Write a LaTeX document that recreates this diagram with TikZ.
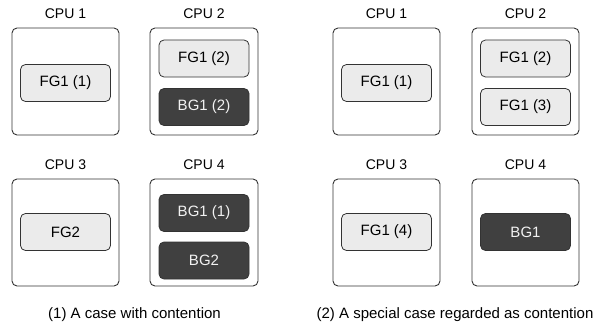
\documentclass[tikz,border=0pt]{standalone}
\usepackage{fontspec}
\setmainfont{Liberation Sans}
\begin{document}
\begin{tikzpicture}[x=1pt,y=-1pt,
  cpubox/.style={draw=black!80, line width=0.9pt, rounded corners=5pt, fill=white},
  fgtask/.style={draw=black!80, line width=0.8pt, rounded corners=5pt, fill=black!8,
    minimum width=90pt, minimum height=37pt, inner sep=0pt, font=\fontsize{15}{17}\selectfont},
  bgtask/.style={fgtask, fill=black!75, text=black!5},
  cpulabel/.style={anchor=base, inner sep=0pt, font=\fontsize{14}{16}\selectfont},
  caption/.style={anchor=base, inner sep=0pt, font=\fontsize{15}{17}\selectfont}]
\useasboundingbox (0,0) rectangle (594,329);

% ---- (1) a case with contention ----
\draw[cpubox] (12,28) rectangle (119,135);
\draw[cpubox] (150,28) rectangle (258,135);
\draw[cpubox] (12,179) rectangle (119,286);
\draw[cpubox] (150,179) rectangle (258,286);
\node[cpulabel] (l1) at (65.5,19) {CPU 1};
\node[cpulabel] (l2) at (204,19) {CPU 2};
\node[cpulabel] (l3) at (65.5,169) {CPU 3};
\node[cpulabel] (l4) at (204,169) {CPU 4};
\node[fgtask] (a1) at (65.5,83) {FG1 (1)};
\node[fgtask] (a2) at (204,58.5) {FG1 (2)};
\node[bgtask] (a3) at (204,107) {BG1 (2)};
\node[fgtask] (a4) at (65.5,232) {FG2};
\node[bgtask] (a5) at (204,213) {BG1 (1)};
\node[bgtask] (a6) at (204,260.5) {BG2};
\node[caption] (c1) at (134.5,318) {(1) A case with contention};

% ---- (2) a special case regarded as contention ----
\draw[cpubox] (333,28) rectangle (440,135);
\draw[cpubox] (472,28) rectangle (579,135);
\draw[cpubox] (333,179) rectangle (440,286);
\draw[cpubox] (472,179) rectangle (579,286);
\node[cpulabel] (r1) at (386.5,19) {CPU 1};
\node[cpulabel] (r2) at (525.5,19) {CPU 2};
\node[cpulabel] (r3) at (386.5,169) {CPU 3};
\node[cpulabel] (r4) at (525.5,169) {CPU 4};
\node[fgtask] (b1) at (386.5,83) {FG1 (1)};
\node[fgtask] (b2) at (525.5,58.5) {FG1 (2)};
\node[fgtask] (b3) at (525.5,107) {FG1 (3)};
\node[fgtask] (b4) at (386.5,232) {FG1 (4)};
\node[bgtask] (b5) at (525.5,232) {BG1};
\node[caption] (c2) at (455,318) {(2) A special case regarded as contention};
\end{tikzpicture}
\end{document}
